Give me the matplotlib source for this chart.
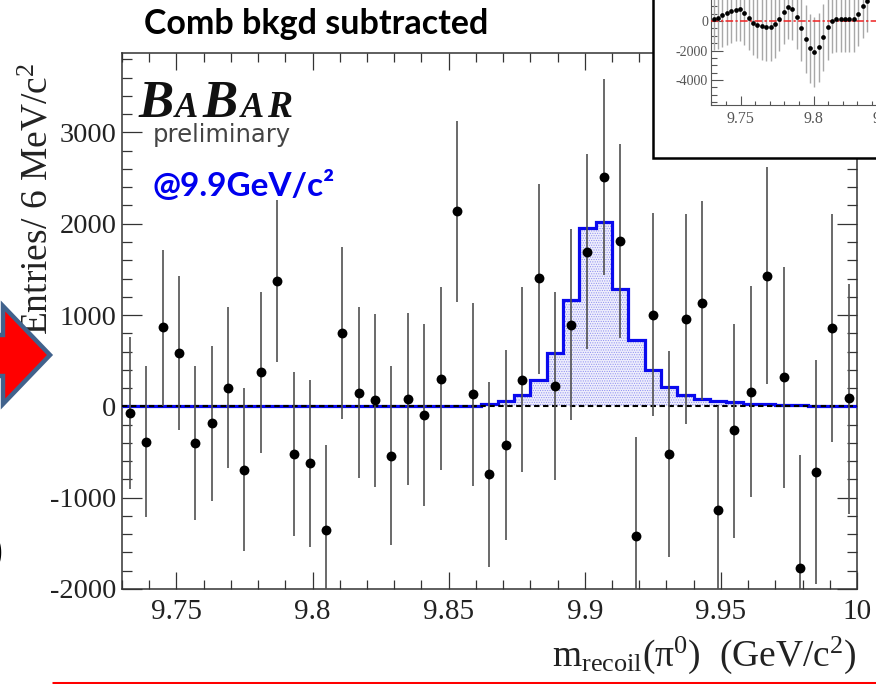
import numpy as np
import matplotlib
matplotlib.use("Agg")
import matplotlib.pyplot as plt
from matplotlib.patches import Polygon, Rectangle
from matplotlib.ticker import MultipleLocator, FixedLocator

plt.rcParams['font.family'] = ['Liberation Serif', 'DejaVu Serif']
plt.rcParams['mathtext.fontset'] = 'custom'
plt.rcParams['mathtext.rm'] = 'Liberation Serif'
plt.rcParams['mathtext.it'] = 'Liberation Serif:italic'
plt.rcParams['mathtext.bf'] = 'Liberation Serif:bold'
plt.rcParams['hatch.linewidth'] = 0.5

W, H = 876, 684

# ---- data -----------------------------------------------------------------
bin_edges_start = 9.73
bin_width = 0.006

values = [-70, -385, 870, 583, -405, -186, 204, -697, 372, 1375,
          -525, -624, -1349, 807, 150, 66, -543, 84, -98, 300,
          2140, 131, -744, -423, 292, 1407, 226, 894, 1692, 2510,
          1810, -1422, 1003, -521, 955, 1135, -1130, -262, 160, 1430,
          317, -1765, -718, 860, 87]
err_high = [760, 445, 1714, 1430, 438, 656, 1085, 197, 1250, 2262,
            372, 292, -423, 1747, 1085, 1014, 438, 1020, 905, 1306,
            3125, 1130, 263, 620, 1306, 2440, 1250, 1942, 2765, 3585,
            2872, -335, 2115, 602, 2105, 2250, 0, 905, 1320, 2620,
            1530, -532, 510, 2105, 1340]
err_low = [-900, -1214, 0, -255, -1240, -1032, -675, -1580, -510, 481,
           -1422, -1539, -2270, -139, -788, -886, -1513, -857, -1094, -693,
           1147, -868, -1758, -1459, -722, 357, -802, -153, 627, 1441,
           750, -2510, -102, -1648, -190, 70, -2250, -1440, -995, 248,
           -893, -3000, -1944, -390, -1174]
signal = [0, 0, 0, 0, 0, 0, 0, 0, 0, 0,
          0, 0, 0, 0, 0, 0, 0, 0, 0, 0,
          3, 8, 25, 55, 128, 285, 583, 1167, 1955, 2020,
          1285, 730, 394, 208, 128, 80, 62, 44, 30, 22,
          15, 10, 6, 4, 3]

inset_values = [136, 226, 384, 520, 655, 768, 791, 565, 204, -113,
                -271, -362, -407, -407, -226, 158, 610, 926, 814, 294,
                -475, -1243, -1853, -2102, -1785, -1107, -429, 23, 113, 113,
                113, 113, 136, 497, 1017, 1379]
inset_err = [2130, 2130, 2130, 2170, 2170, 2130, 2130, 2170, 2170, 2200,
             2220, 2260, 2280, 2280, 2260, 2220, 2170, 2130, 2130, 2170,
             2220, 2300, 2350, 2400, 2350, 2260, 2220, 2220, 2220, 2220,
             2220, 2220, 2220, 2170, 2170, 2130]

xtick_labels = ['9.75', '9.8', '9.85', '9.9', '9.95', '10']
xticks = [9.75, 9.8, 9.85, 9.9, 9.95, 10.0]
yticks = [-2000, -1000, 0, 1000, 2000, 3000]
inset_xticks = [9.75, 9.8, 9.85]
inset_xtick_labels = ['9.75', '9.8', '9.85']
inset_yticks = [-4000, -2000, 0]

# ---- figure ---------------------------------------------------------------
fig = plt.figure(figsize=(W / 100, H / 100), dpi=100, facecolor='white')


def box(l, t, r, b):
    return [l / W, 1 - b / H, (r - l) / W, (b - t) / H]


ax = fig.add_axes(box(122, 53, 857, 589), zorder=1)
n = len(values)
edges = bin_edges_start + bin_width * np.arange(n + 1)
centers = edges[:-1] + bin_width / 2
vals = np.array(values, float)
hi = np.array(err_high, float)
lo = np.array(err_low, float)
sig = np.array(signal, float)

ax.stairs(sig, edges, fill=True, facecolor='#eeeefc', edgecolor='none', zorder=1)
ax.stairs(sig, edges, fill=True, facecolor='none', edgecolor='#8f8ff0',
          hatch='.......', linewidth=0, zorder=1.5)
ax.stairs(sig, edges, fill=False, edgecolor='#0a0aee', linewidth=2.3, zorder=3,
          baseline=None)
ax.axhline(0, color='black', lw=1.5, ls=(0, (2.6, 1.7)), zorder=3.5)
ax.vlines(centers, lo, hi, color='#505050', lw=1.2, zorder=4)
ax.plot(centers, vals, 'o', color='black', ms=7.1, mew=0, zorder=5)

ax.set_xlim(9.73, 10.0)
ax.set_ylim(-2000, 3870)
ax.xaxis.set_major_locator(FixedLocator(xticks))
ax.xaxis.set_minor_locator(MultipleLocator(0.01))
ax.yaxis.set_major_locator(FixedLocator(yticks))
ax.yaxis.set_minor_locator(MultipleLocator(200))
ax.set_xticklabels(xtick_labels)
ax.set_yticklabels([str(v) for v in yticks])
for axis in ('x', 'y'):
    major = 12.5 if axis == 'x' else 14.5
    minor = 6.5 if axis == 'x' else 7.2
    ax.tick_params(axis=axis, which='major', direction='in', length=major, width=0.9,
                   color='#333333', top=True, right=True, labelcolor='#222222', labelsize=21)
    ax.tick_params(axis=axis, which='minor', direction='in', length=minor, width=0.9,
                   color='#333333', top=True, right=True)
ax.tick_params(axis='x', which='major', pad=7)
ax.tick_params(axis='y', which='major', pad=4, labelsize=20.5)
for s in ax.spines.values():
    s.set_linewidth(1.1)
    s.set_color('#333333')

# ---- overlay for texts and decoration, in pixel coordinates ----------------
ov = fig.add_axes([0, 0, 1, 1], zorder=2)
ov.set_xlim(0, W)
ov.set_ylim(H, 0)
ov.axis('off')
ov.patch.set_alpha(0)

ov.text(38, 199, r'Entries/ 6 MeV/c$^{\mathrm{2}}$', rotation=90, ha='center', va='center',
        fontsize=27, color='#222222')
ov.text(857, 666, r'm$_{\mathrm{recoil}}$(π$^{\mathrm{0}}$)  (GeV/c$^{\mathrm{2}}$)', ha='right', va='baseline',
        fontsize=27, color='#222222')
ov.text(144, 34, 'Comb bkgd subtracted', fontfamily='Lato', fontweight='bold',
        fontsize=24.5, color='black', ha='left', va='baseline')
ov.text(152, 196, '@9.9GeV/c²', fontfamily='Lato', fontweight='bold',
        fontsize=24, color='#0000ee', ha='left', va='baseline')

# BaBar logo
logo_x = [138, 175, 202, 241, 267]
logo_sizes = [38, 25, 38, 25, 27]
for ch, lx, ls in zip('BABAR', logo_x, logo_sizes):
    ov.text(lx, 117, ch, fontfamily='Liberation Serif', fontstyle='italic', fontweight='bold',
            fontsize=ls, color='#111111', ha='left', va='baseline')
ov.text(153, 142, 'preliminary', fontfamily='DejaVu Sans', fontsize=17.5,
        color='#444444', ha='left', va='baseline')

# Slide arrow at the left edge and other slide fragments
ov.add_patch(Polygon([[-20, 335], [3, 335], [3, 306], [50, 355], [3, 404], [3, 376], [-20, 376]],
                     closed=True, facecolor='#ff0000', edgecolor='#41628c', linewidth=3.2,
                     joinstyle='miter', zorder=3))
ov.text(-9, 553, ')', fontfamily='Liberation Sans', fontweight='bold', fontsize=26,
        color='black', ha='left', va='center')
ov.plot([52, W], [682.5, 682.5], color='#ff0000', lw=2.2, solid_capstyle='butt')

# ---- inset slide image ------------------------------------------------------
ov.add_patch(Rectangle((652.5, -10), 300, 167.5, facecolor='white', edgecolor='black',
                       linewidth=1.8, zorder=4))

inset_l, inset_b = 711, 104.5
px_per_x = 73 / 0.05
px_per_y = 29.5 / 2000
inset_r = 960
ins = fig.add_axes(box(inset_l, 0, inset_r, inset_b), zorder=3)
ins.patch.set_alpha(0)
ins.set_xlim(9.7297, 9.7297 + (inset_r - inset_l) / px_per_x)
ins.set_ylim(-(inset_b - 21) / px_per_y, 21 / px_per_y)

ins_x = 9.73 + 0.0015 + 0.003 * np.arange(len(inset_values))
ins_v = np.array(inset_values, float)
ins_e = np.array(inset_err, float)
ins.vlines(ins_x, ins_v - ins_e, ins_v + ins_e, color='#a8a8a8', lw=1.0, zorder=2)
ins.axhline(0, color='#ee2222', lw=1.1, ls=(0, (5, 1.5, 1.5, 1.5)), zorder=3)
ins.plot(ins_x, ins_v, 'o', color='black', ms=3.4, mew=0, zorder=4)

ins.xaxis.set_major_locator(FixedLocator(inset_xticks))
ins.xaxis.set_minor_locator(MultipleLocator(0.01))
ins.yaxis.set_major_locator(FixedLocator(inset_yticks))
ins.yaxis.set_minor_locator(MultipleLocator(500))
ins.set_xticklabels(inset_xtick_labels)
ins.set_yticklabels([str(v) for v in inset_yticks])
ins.tick_params(axis='x', which='major', direction='in', length=6.2, width=0.8, color='#555555',
                labelsize=11.5, labelcolor='#555555', pad=5)
ins.tick_params(axis='x', which='minor', direction='in', length=3, width=0.8, color='#555555')
ins.tick_params(axis='y', which='major', direction='in', length=8.4, width=0.8, color='#555555',
                labelsize=10, labelcolor='#555555', pad=2)
ins.tick_params(axis='y', which='minor', direction='in', length=4.2, width=0.8, color='#555555')
ins.spines['top'].set_visible(False)
ins.spines['right'].set_visible(False)
ins.spines['left'].set_color('#555555')
ins.spines['bottom'].set_color('#555555')

fig.savefig('out.png', dpi=100)
